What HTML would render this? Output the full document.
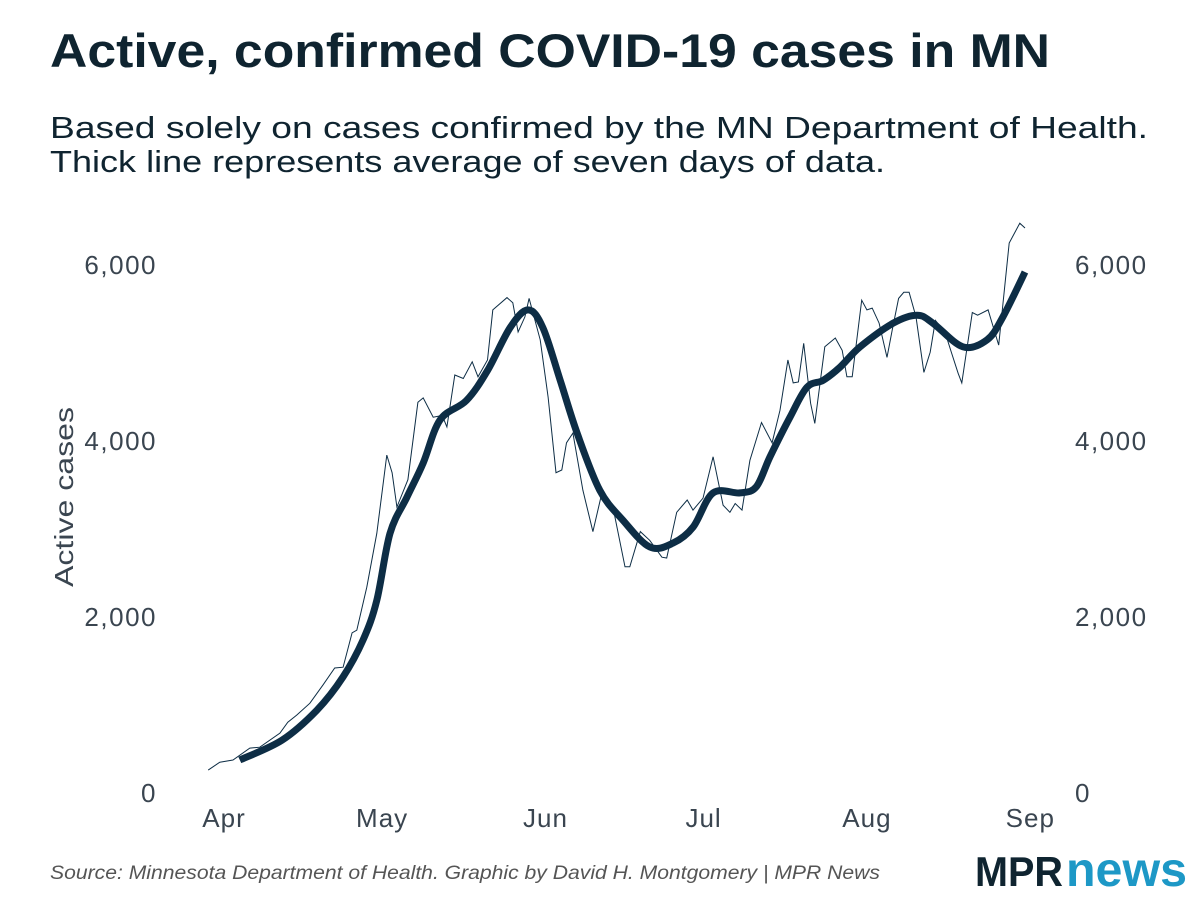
<!DOCTYPE html>
<html><head><meta charset="utf-8"><style>
body{margin:0;background:#fff;}
svg{display:block;font-family:"Liberation Sans",sans-serif;}
</style></head><body>
<svg width="1200" height="900" viewBox="0 0 1200 900">
<text x="50" y="67" font-size="47" font-weight="bold" fill="#0f2430" textLength="1000" lengthAdjust="spacingAndGlyphs">Active, confirmed COVID-19 cases in MN</text>
<text x="50" y="138" font-size="31" fill="#0f2430" textLength="1098" lengthAdjust="spacingAndGlyphs">Based solely on cases confirmed by the MN Department of Health.</text>
<text x="50" y="172" font-size="31" fill="#0f2430" textLength="835" lengthAdjust="spacingAndGlyphs">Thick line represents average of seven days of data.</text>
<g id="yl"></g>
<g id="yr"></g>
<g id="xa"></g>
<text transform="translate(73,497) rotate(-90)" text-anchor="middle" font-size="26" fill="#3a4550" textLength="180" lengthAdjust="spacingAndGlyphs">Active cases</text>
<path id="thin" fill="none" stroke="#0d2d45" stroke-width="1"/>
<path id="thick" fill="none" stroke="#0d2d45" stroke-width="7" stroke-linejoin="round"/>
<text x="50" y="879" font-size="19" font-style="italic" fill="#555" textLength="830" lengthAdjust="spacingAndGlyphs">Source: Minnesota Department of Health. Graphic by David H. Montgomery | MPR News</text>
<g>
<text x="975" y="886" font-size="42" font-weight="bold" fill="#0f2430" textLength="88" lengthAdjust="spacingAndGlyphs">MPR</text>
<text x="1066" y="886" font-size="48" font-weight="bold" fill="#1d98c6" textLength="121" lengthAdjust="spacingAndGlyphs">news</text>
</g>
</svg>
<script>
const yTicks=[0,2000,4000,6000];
const yTickLabels=["0","2,000","4,000","6,000"];
const xTickDays=[0,30,61,91,122,153];
const xTickLabels=["Apr","May","Jun","Jul","Aug","Sep"];
const thinDays=[-3,-0.8,1.7,4.9,6.8,10.6,12.1,13.8,16.3,18.8,21,22.6,24.3,25.2,27.1,29,30.9,31.9,32.8,34.9,36.8,37.8,39.7,41.4,42.3,43.8,45.4,47.1,48.2,50,51,53.7,54.8,55.8,57.1,57.9,60,61.5,63,64.1,65,66.2,68.1,70,71.7,73.8,76.1,77,79,80.8,83.1,84,85.9,87.9,89,90.9,92.8,94.7,96,97,98.3,99.8,102,104,105.5,107,108,109,110,111.3,112.1,114,116,117.3,118.2,119.2,121,122,123,124.3,125.8,126.8,128,129,130,131.3,132.8,134,135,136.8,138,139.3,140,142,143,145,147,149,151,152];
const thinValues=[260,350,375,510,520,680,805,885,1020,1230,1420,1430,1820,1850,2340,2950,3840,3640,3250,3560,4440,4490,4270,4290,4160,4750,4710,4900,4730,4920,5490,5630,5570,5240,5410,5620,5150,4500,3640,3670,3980,4090,3440,2970,3410,3250,2570,2570,2970,2870,2680,2670,3190,3330,3215,3350,3820,3270,3190,3290,3215,3780,4210,3980,4350,4920,4660,4670,5110,4430,4200,5070,5170,5030,4730,4730,5600,5490,5510,5340,4950,5260,5620,5690,5690,5410,4780,5010,5370,5240,5010,4770,4660,5460,5430,5490,5090,6250,6475,6420];
const avgDays=[3,11,17.6,22.6,26.4,29,31.5,34.7,37.8,41,46,50,54.3,57.7,60.5,63.8,67,71.3,75.7,80.8,85.2,89,92.8,97.9,101,103.6,107.4,110.6,113.7,116.9,120.7,127,131.5,134.5,140.2,144.8,147.8,152];
const avgValues=[375,600,940,1320,1740,2190,2950,3360,3750,4240,4460,4800,5290,5490,5290,4690,4090,3440,3100,2795,2840,3020,3410,3410,3480,3820,4270,4610,4690,4840,5070,5340,5430,5340,5070,5150,5410,5920];
const X=d=>224+d*5.27;
const Y=v=>793-v*176/2000;
const ns="http://www.w3.org/2000/svg";
function mk(tag,attrs,txt){const e=document.createElementNS(ns,tag);for(const k in attrs)e.setAttribute(k,attrs[k]);if(txt!==undefined)e.textContent=txt;return e;}
const yl=document.getElementById('yl'),yr=document.getElementById('yr'),xa=document.getElementById('xa');
yTicks.forEach((t,i)=>{
 const a=mk('text',{x:157,y:Y(t)+9,'text-anchor':'end','font-size':26,fill:'#3a4550','letter-spacing':1.5},yTickLabels[i]);
 
 
 yl.appendChild(a);
 const b=mk('text',{x:1075,y:Y(t)+9,'font-size':26,fill:'#3a4550','letter-spacing':1.5},yTickLabels[i]);
 
 
 yr.appendChild(b);
});
xTickDays.forEach((d,i)=>{
 const a=mk('text',{x:X(d),y:827,'text-anchor':'middle','font-size':26,fill:'#3a4550','letter-spacing':1},xTickLabels[i]);
 
 
 xa.appendChild(a);
});
document.getElementById('thin').setAttribute('d',thinDays.map((d,i)=>(i?'L':'M')+X(d).toFixed(1)+','+Y(thinValues[i]).toFixed(1)).join(''));
let p='M'+X(avgDays[0])+','+Y(avgValues[0]);
for(let i=0;i<avgDays.length-1;i++){
 const x0=X(avgDays[Math.max(i-1,0)]),y0=Y(avgValues[Math.max(i-1,0)]);
 const x1=X(avgDays[i]),y1=Y(avgValues[i]),x2=X(avgDays[i+1]),y2=Y(avgValues[i+1]);
 const j=Math.min(i+2,avgDays.length-1);const x3=X(avgDays[j]),y3=Y(avgValues[j]);
 p+='C'+(x1+(x2-x0)/6).toFixed(1)+','+(y1+(y2-y0)/6).toFixed(1)+' '+(x2-(x3-x1)/6).toFixed(1)+','+(y2-(y3-y1)/6).toFixed(1)+' '+x2.toFixed(1)+','+y2.toFixed(1);
}
document.getElementById('thick').setAttribute('d',p);
</script>
</body></html>
